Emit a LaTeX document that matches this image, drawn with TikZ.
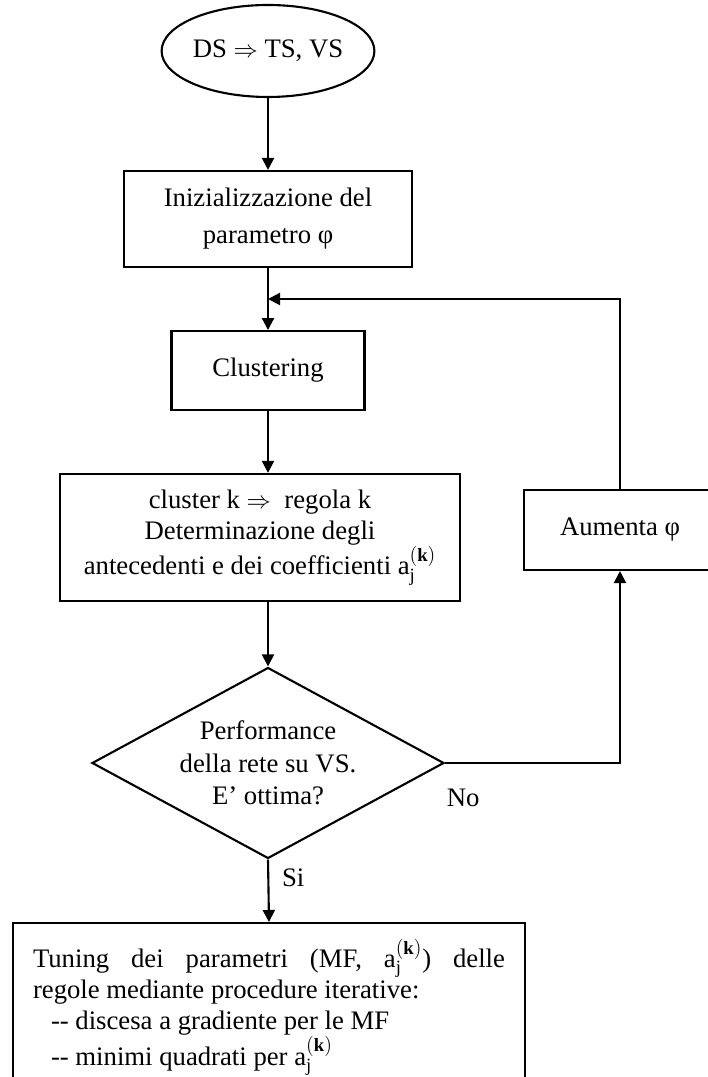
\documentclass[tikz,border=0pt]{standalone}
\usepackage{fontspec}
\setmainfont{Liberation Serif}
\usepackage{tikz}
\usetikzlibrary{arrows.meta,shapes.geometric}

\begin{document}
\begin{tikzpicture}[
  font=\fontsize{19}{22}\selectfont,
  start/.style={draw,ellipse,line width=1.5pt,minimum width=4.875cm,minimum height=2.3cm,inner sep=0pt},
  proc/.style={draw,line width=1.5pt,align=center,inner sep=0pt},
  test/.style={draw,diamond,aspect=1.84,line width=1.5pt,align=center,minimum width=8.8cm,minimum height=4.775cm,inner sep=0pt},
  arr/.style={-{Triangle[length=3mm,width=3mm]},line width=1.5pt}
]
\useasboundingbox (0,0) rectangle (17.7,26.925);
\clip (0,0) rectangle (17.7,26.925);
\node[start] (ds) at (6.7,25.65) {DS $\Rightarrow$ TS, VS};
\node[proc,minimum width=7.2cm,minimum height=2.4cm] (init) at (6.7,21.45) {Inizializzazione del\\[1.5mm]parametro φ};
\node[proc,minimum width=4.825cm,minimum height=1.975cm] (clus) at (6.7,17.66) {Clustering};
\node[proc,minimum width=10cm,minimum height=3.175cm] (rule) at (6.5,13.49) {cluster k $\Rightarrow$\ \ regola k\\Determinazione degli\\antecedenti e dei coefficienti $\mathrm{a}_{\mathrm{j}}^{(\mathbf{k})}$};
\node[proc,minimum width=4.8cm,minimum height=2cm] (aum) at (15.5,13.675) {Aumenta φ};
\node[test,font=\fontsize{19}{23}\selectfont] (perf) at (6.7,7.85) {Performance\\della rete su VS.\\E’ ottima?};
\node[proc,anchor=north,text width=11.8cm,align=justify,inner xsep=0.5cm,inner ysep=0.4cm] (tune) at (6.725,3.875) {Tuning dei parametri (MF, $\mathrm{a}_{\mathrm{j}}^{(\mathbf{k})}$) delle\linebreak regole mediante procedure iterative:\\\hspace*{0.45cm}-{}- discesa a gradiente per le MF\\\hspace*{0.45cm}-{}- minimi quadrati per $\mathrm{a}_{\mathrm{j}}^{(\mathbf{k})}$};
\coordinate (loop) at (6.7,19.45);
\draw[arr] (ds) -- (init);
\draw[arr] (init) -- (clus);
\draw[arr] (aum.north) |- (loop);
\draw[arr] (clus.south) -- (clus.south |- rule.north);
\draw[arr] (rule.south -| perf.north) -- (perf.north);
\draw[arr] (perf.east) -| node[pos=0,anchor=north west,xshift=-1mm,yshift=-5mm]{No} (aum.south);
\draw[arr] (perf.south) -- node[pos=0.3,right=2mm]{Si} (tune.north);
\end{tikzpicture}
\end{document}
